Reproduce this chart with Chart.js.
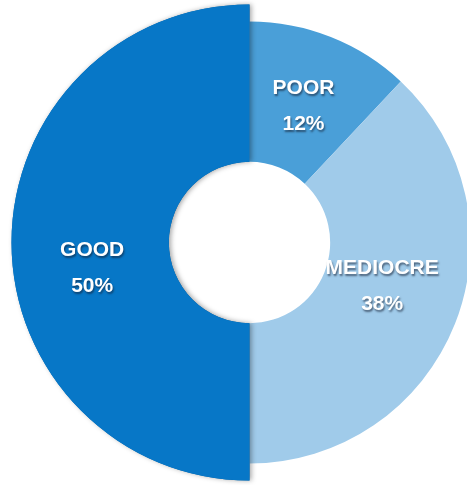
<!DOCTYPE html>
<html>
<head>
<meta charset="utf-8">
<script src="https://cdn.jsdelivr.net/npm/chart.js@4/dist/chart.umd.min.js"></script>
<style>
  html, body { margin: 0; padding: 0; background: #ffffff; }
  #wrap { width: 467px; height: 485px; }
</style>
</head>
<body>
<div id="wrap"><canvas id="ratingChart"></canvas></div>
<script>
// chart data
const categories = ['POOR', 'MEDIOCRE', 'GOOD'];
const shares = [12, 38, 50];
const shareLabels = ['12%', '38%', '50%'];

const sliceColors = ['#4a9fd8', '#a0cbea', '#0777c7'];

// the GOOD slice sticks out a bit past the others
const popOutPlugin = {
    id: 'popOut',
    beforeDatasetsDraw(chart, args, opts) {
        const meta = chart.getDatasetMeta(0);
        const arc = meta.data[opts.index];
        if (arc && !arc._popped) {
            arc.outerRadius += opts.extra;
            arc._popped = true;
        }
    },
    afterDatasetsDraw(chart, args, opts) {
        // redraw the popped slice with a soft shadow on top
        const ctx = chart.ctx;
        const arc = chart.getDatasetMeta(0).data[opts.index];
        ctx.save();
        ctx.shadowColor = 'rgba(0,0,0,0.35)';
        ctx.shadowBlur = 5;
        ctx.shadowOffsetX = 2;
        ctx.shadowOffsetY = 0;
        arc.draw(ctx);
        ctx.restore();
    }
};

// two line labels inside each slice
const sliceLabelPlugin = {
    id: 'sliceLabels',
    afterDatasetsDraw(chart, args, opts) {
        const ctx = chart.ctx;
        const meta = chart.getDatasetMeta(0);
        meta.data.forEach((arc, i) => {
            const p = arc.getProps(['x', 'y', 'startAngle', 'endAngle', 'innerRadius', 'outerRadius']);
            const mid = (p.startAngle + p.endAngle) / 2 + opts.nudge[i];
            const r = p.innerRadius + (p.outerRadius - p.innerRadius) * opts.radial[i];
            const cx = p.x + Math.cos(mid) * r;
            const cy = p.y + Math.sin(mid) * r;
            ctx.save();
            ctx.font = 'bold 21px "Liberation Sans", Arial, sans-serif';
            ctx.fillStyle = '#ffffff';
            ctx.textAlign = 'center';
            ctx.textBaseline = 'middle';
            ctx.shadowColor = 'rgba(20,30,50,0.6)';
            ctx.shadowBlur = 2;
            ctx.shadowOffsetX = 1;
            ctx.shadowOffsetY = 2;
            ctx.fillText(categories[i], cx, cy - 18);
            ctx.fillText(shareLabels[i], cx, cy + 18);
            ctx.restore();
        });
    }
};

const ctx = document.getElementById('ratingChart');
new Chart(ctx, {
    type: 'doughnut',
    data: {
        labels: categories,
        datasets: [{
            data: shares,
            backgroundColor: sliceColors,
            borderWidth: 0
        }]
    },
    options: {
        responsive: true,
        maintainAspectRatio: false,
        animation: false,
        radius: 221,
        cutout: '36.5%',
        layout: {padding: {left: 32, right: 0, top: 0, bottom: 0}},
        events: [],
        plugins: {
            legend: {display: false},
            tooltip: {enabled: false},
            popOut: {index: 2, extra: 17},
            sliceLabels: {radial: [0.47, 0.42, 0.5], nudge: [0, -0.06, -0.16]}
        }
    },
    plugins: [popOutPlugin, sliceLabelPlugin]
});
</script>
</body>
</html>
